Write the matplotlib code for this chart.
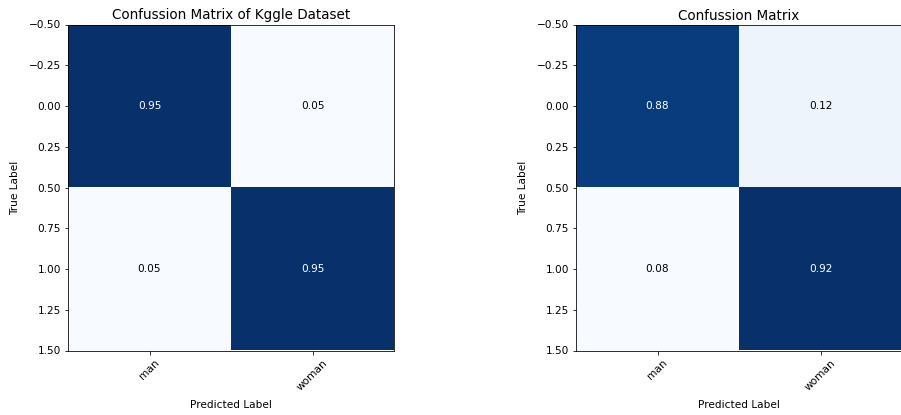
import numpy as np
import matplotlib.pyplot as plt

classes = ["man", "woman"]

kaggle_cm = np.array([[0.95, 0.05],
                      [0.05, 0.95]])
own_cm = np.array([[0.88, 0.12],
                   [0.08, 0.92]])

titles = ["Confussion Matrix of Kggle Dataset", "Confussion Matrix"]
y_ticks = [-0.5, -0.25, 0.0, 0.25, 0.5, 0.75, 1.0, 1.25, 1.5]


def plot_confusion_matrix(ax, cm, title):
    ax.imshow(cm, interpolation="nearest", cmap=plt.cm.Blues, aspect="auto")
    ax.set_title(title, fontsize=13.5, pad=5)
    ax.set_xticks(np.arange(len(classes)))
    ax.set_xticklabels(classes, rotation=45)
    ax.set_yticks(y_ticks)
    ax.set_ylim(1.5, -0.5)
    ax.tick_params(labelsize=10.5)
    thresh = cm.max() / 2.0
    for i in range(cm.shape[0]):
        for j in range(cm.shape[1]):
            ax.text(j, i, "%.2f" % cm[i, j],
                    ha="center", va="center", fontsize=10.5,
                    color="white" if cm[i, j] > thresh else "black")
    ax.set_ylabel("True Label", fontsize=10.5, labelpad=9)
    ax.set_xlabel("Predicted Label", fontsize=10.5, labelpad=8)


fig = plt.figure(figsize=(901 / 72, 415 / 72), dpi=72)
ax1 = fig.add_axes([68 / 901, 1 - 350.5 / 415, 326 / 901, 326 / 415])
ax2 = fig.add_axes([576 / 901, 1 - 350.5 / 415, 326 / 901, 326 / 415])

plot_confusion_matrix(ax1, kaggle_cm, titles[0])
plot_confusion_matrix(ax2, own_cm, titles[1])

fig.savefig("out.png", dpi=72)
